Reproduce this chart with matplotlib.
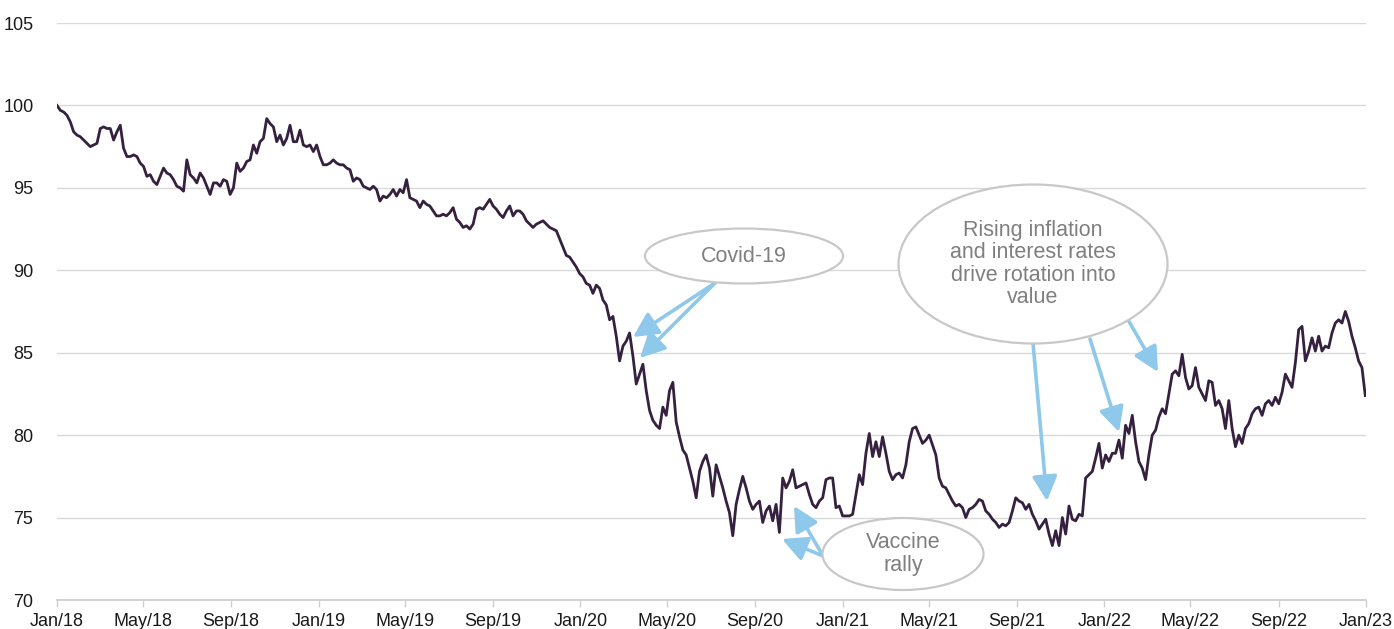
import matplotlib
matplotlib.use("Agg")
import matplotlib.pyplot as plt
from matplotlib.patches import Ellipse
import pandas as pd

# ---------------- data ----------------
start_date = "2018-01-01"
end_date = "2022-12-31"

values_2018 = [
    100.0, 99.7, 99.6, 99.4, 99.0, 98.4, 98.2, 98.1, 97.9, 97.7, 97.5, 97.6, 97.7,
    98.6, 98.7, 98.6, 98.6, 97.9, 98.4, 98.8, 97.4, 96.9, 96.9, 97.0, 96.9, 96.5,
    96.3, 95.7, 95.8, 95.4, 95.2, 95.7, 96.2, 95.9, 95.8, 95.5, 95.1, 95.0, 94.8,
    96.7, 95.8, 95.6, 95.3, 95.9, 95.6, 95.1, 94.6, 95.3, 95.3, 95.1, 95.5, 95.4,
    94.6, 95.0, 96.5, 96.0, 96.2, 96.6, 96.7, 97.6, 97.1, 97.8, 98.0, 99.2, 98.9,
    98.7, 97.8, 98.2, 97.6, 98.0, 98.8, 97.8, 97.8, 98.5, 97.6, 97.5, 97.6, 97.2,
    97.6, 96.9, 96.4,
]
values_2019 = [
    96.4, 96.5, 96.7, 96.5, 96.4, 96.4, 96.2, 96.1, 95.4, 95.6, 95.5, 95.1, 95.0,
    94.9, 95.1, 94.9, 94.2, 94.5, 94.4, 94.6, 94.9, 94.5, 94.9, 94.7, 95.5, 94.4,
    94.3, 94.2, 93.8, 94.2, 94.0, 93.9, 93.6, 93.3, 93.3, 93.4, 93.3, 93.5, 93.8,
    93.1, 92.9, 92.6, 92.7, 92.5, 92.8, 93.7, 93.8, 93.7, 94.0, 94.3, 93.9, 93.7,
    93.4, 93.2, 93.6, 93.9, 93.3, 93.6, 93.6, 93.4, 93.0, 92.8, 92.6, 92.8, 92.9,
    93.0, 92.8, 92.6, 92.5, 92.4, 91.9, 91.4, 90.9, 90.8, 90.5, 90.2, 89.8, 89.6,
    89.2,
]
values_2020 = [
    89.1, 88.6, 89.1, 88.9, 88.2, 87.9, 87.0, 87.2, 86.0, 84.5, 85.4, 85.7, 86.2,
    84.8, 83.1, 83.7, 84.3, 82.7, 81.5, 80.9, 80.6, 80.4, 81.7, 81.2, 82.7, 83.2,
    80.8, 79.9, 79.1, 78.8, 78.0, 77.2, 76.2, 77.8, 78.4, 78.8, 78.0, 76.3, 78.2,
    77.5, 76.8, 76.0, 75.3, 73.9, 75.8, 76.7, 77.5, 76.8, 76.0, 75.5, 75.8, 76.0,
    74.7, 75.4, 75.7, 74.8, 75.8, 74.1, 77.4, 76.8, 77.2, 77.9, 76.8, 76.9, 77.0,
    77.1, 76.4, 75.8, 75.6, 76.0, 76.2, 77.3, 77.4, 77.4, 75.6, 75.7, 75.1, 75.1,
    75.1, 75.2, 76.4, 77.6, 77.0, 78.9, 80.1,
]
values_2021 = [
    78.7, 79.6, 78.7, 79.9, 78.9, 77.8, 77.3, 77.6, 77.7, 77.4, 78.2, 79.6, 80.4,
    80.5, 80.0, 79.5, 79.7, 80.0, 79.4, 78.8, 77.4, 76.9, 76.8, 76.4, 76.0, 75.7,
    75.8, 75.6, 75.0, 75.5, 75.6, 75.8, 76.1, 76.0, 75.4, 75.2, 74.9, 74.7, 74.4,
    74.6, 74.5, 74.7, 75.4, 76.2, 76.0, 75.9, 75.5, 75.8, 75.2, 74.8, 74.3, 74.6,
    74.9, 74.0, 73.3, 74.2, 73.3, 75.0, 74.0, 75.7, 74.9, 74.8, 75.2, 75.1, 77.4,
    77.6, 77.8, 78.6, 79.5, 78.0, 78.8, 78.4, 78.9, 78.9, 79.7, 78.6, 80.6, 80.1,
    81.2, 79.6,
]
values_2022 = [
    78.4, 78.0, 77.3, 78.8, 80.0, 80.3, 81.1, 81.6, 81.3, 82.5, 83.7, 83.9, 83.6,
    84.9, 83.5, 82.8, 83.0, 84.1, 82.9, 82.5, 82.1, 83.3, 83.2, 81.8, 82.1, 81.6,
    80.4, 82.1, 80.4, 79.3, 80.0, 79.5, 80.4, 80.7, 81.3, 81.6, 81.7, 81.2, 81.9,
    82.1, 81.8, 82.3, 81.9, 82.6, 83.7, 83.3, 82.9, 84.4, 86.4, 86.6, 84.5, 85.1,
    85.9, 85.1, 86.0, 85.1, 85.4, 85.3, 86.2, 86.8, 87.0, 86.8, 87.5, 86.9, 86.0,
    85.3, 84.5, 84.1, 82.4,
]
values = values_2018 + values_2019 + values_2020 + values_2021 + values_2022
dates = pd.date_range(start_date, end_date, periods=len(values))

tick_dates = pd.date_range("2018-01-01", "2023-01-01", freq="4MS")
tick_labels = [d.strftime("%b/%y") for d in tick_dates]
y_ticks = [70, 75, 80, 85, 90, 95, 100, 105]

# ---------------- styling ----------------
LINE = "#35213f"
GRID = "#d9d9d9"
AXIS = "#cfcfcf"
NOTE_TXT = "#7f7f7f"
NOTE_EDGE = "#c8c8c8"
ARROW = "#8ec8ea"

plt.rcParams["font.family"] = ["Liberation Sans", "DejaVu Sans"]

W, H = 1394, 629
fig = plt.figure(figsize=(W / 100, H / 100), dpi=100)
ax = fig.add_axes([57 / W, 1 - 600 / H, (1366 - 57) / W, (600 - 23) / H])

ax.plot(dates, values, color=LINE, lw=2.0, zorder=3, solid_joinstyle="round")

ax.set_ylim(70, 105)
ax.set_xlim(pd.Timestamp("2018-01-01"), pd.Timestamp("2023-01-01"))
ax.set_yticks(y_ticks)
ax.set_xticks(tick_dates)
ax.set_xticklabels(tick_labels)
ax.yaxis.grid(True, color=GRID, lw=1)
ax.set_axisbelow(True)
for s in ("top", "right", "left"):
    ax.spines[s].set_visible(False)
ax.spines["bottom"].set_color(AXIS)
ax.spines["bottom"].set_linewidth(1.3)
ax.tick_params(axis="x", length=5, width=1, color=AXIS, labelsize=13, pad=4,
               labelcolor="#1a1a1a")
ax.tick_params(axis="y", length=0, labelsize=13, pad=17, labelcolor="#1a1a1a")


def fp(px, py):
    return (px / W, 1 - py / H)


def ellipse(cx, cy, w, h, text, fs=15.5):
    e = Ellipse(fp(cx, cy), w / W, h / H, transform=fig.transFigure,
                facecolor="white", edgecolor=NOTE_EDGE, lw=1.6, zorder=5)
    fig.add_artist(e)
    fig.text(*fp(cx, cy), text, ha="center", va="center", color=NOTE_TXT,
             fontsize=fs, linespacing=1.08, zorder=6)


def arrow(x0, y0, x1, y1):
    ax.annotate("", xy=fp(x1, y1), xycoords="figure fraction",
                xytext=fp(x0, y0), textcoords="figure fraction",
                arrowprops=dict(arrowstyle="-|>,head_length=0.75,head_width=0.38",
                                color=ARROW, lw=2.6, mutation_scale=20,
                                shrinkA=0, shrinkB=0),
                zorder=4)


ellipse(744, 256, 198, 55, "Covid-19")
arrow(715, 283, 633, 337)
arrow(715, 283, 640, 358)

ellipse(903, 554, 161, 72, "Vaccine\nrally")
arrow(823, 556, 782, 539)
arrow(823, 556, 794, 506)

ellipse(1033, 264, 269, 159, "Rising inflation\nand interest rates\ndrive rotation into\nvalue")
arrow(1033, 343, 1047, 501)
arrow(1090, 339, 1119, 432)
arrow(1127, 318, 1158, 372)

fig.savefig("out.png", dpi=100)
